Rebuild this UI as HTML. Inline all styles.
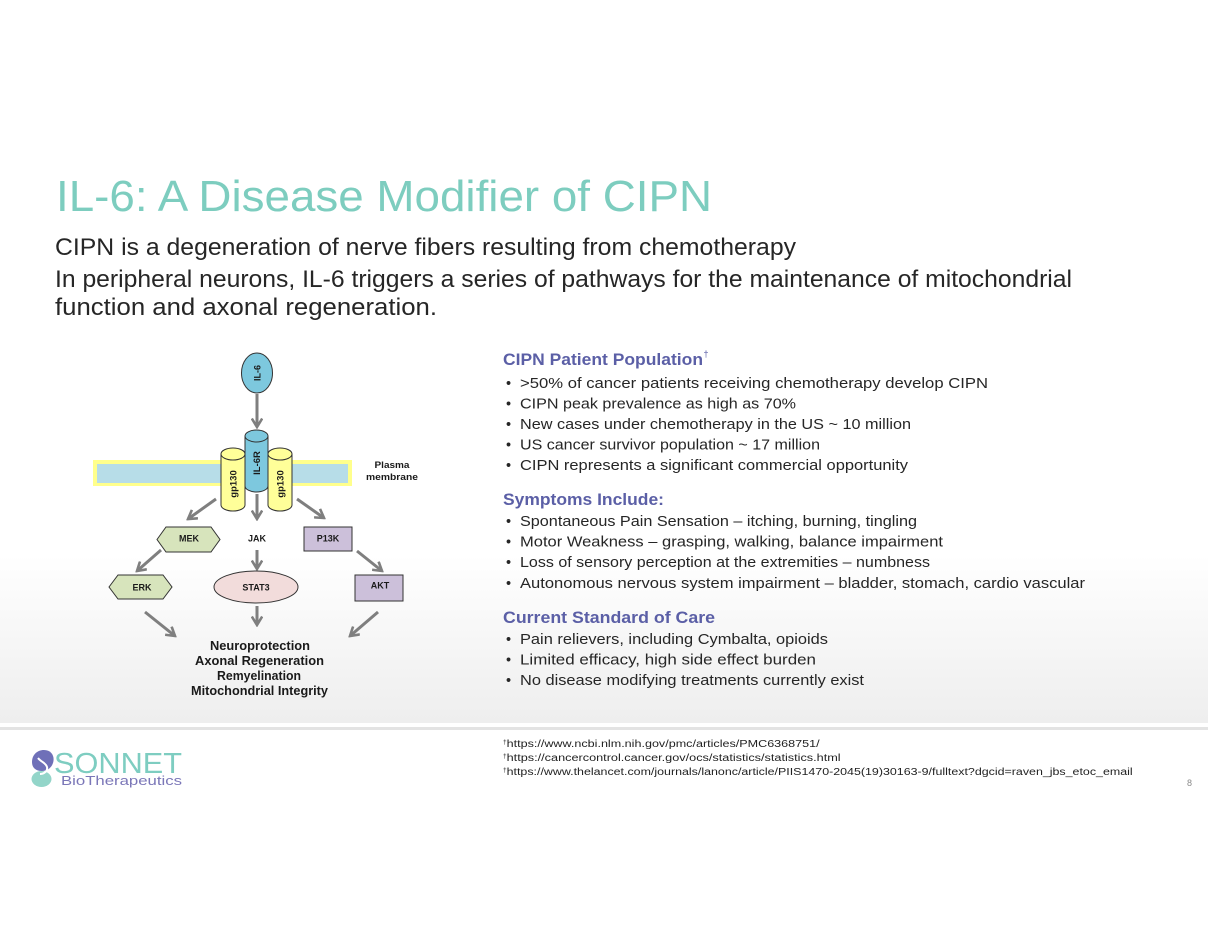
<!DOCTYPE html>
<html>
<head>
<meta charset="utf-8">
<style>
html,body{margin:0;padding:0;background:#fff;}
svg{display:block;}
text{font-family:"Liberation Sans", Arial, sans-serif;}
</style>
</head>
<body>
<svg width="1208" height="934" viewBox="0 0 1208 934" xmlns="http://www.w3.org/2000/svg">
<defs>
  <linearGradient id="bg" x1="0" y1="0" x2="0" y2="1">
    <stop offset="0" stop-color="#ffffff"/>
    <stop offset="1" stop-color="#eeeeee"/>
  </linearGradient>
  <marker id="ah" viewBox="0 0 12 12" refX="10" refY="6" markerWidth="12" markerHeight="12" markerUnits="userSpaceOnUse" orient="auto">
    <path d="M1.5,0.8 L10,6 L1.5,11.2" fill="none" stroke="#7f7f7f" stroke-width="2.6"/>
  </marker>
</defs>

<!-- background -->
<rect x="0" y="0" width="1208" height="934" fill="#ffffff"/>
<rect x="0" y="555" width="1208" height="168" fill="url(#bg)"/>
<rect x="0" y="727" width="1208" height="3" fill="#e3e3e3"/>

<!-- title -->
<text x="56" y="211" font-size="44" fill="#7dcdbf" textLength="656" lengthAdjust="spacingAndGlyphs">IL-6: A Disease Modifier of CIPN</text>

<!-- subtitle -->
<g font-size="24" fill="#262626">
  <text x="55" y="255" textLength="741" lengthAdjust="spacingAndGlyphs">CIPN is a degeneration of nerve fibers resulting from chemotherapy</text>
  <text x="55" y="287" textLength="1017" lengthAdjust="spacingAndGlyphs">In peripheral neurons, IL-6 triggers a series of pathways for the maintenance of mitochondrial</text>
  <text x="55" y="315" textLength="382" lengthAdjust="spacingAndGlyphs">function and axonal regeneration.</text>
</g>

<!-- ===== Diagram ===== -->
<!-- membrane -->
<rect x="93" y="460" width="259" height="26" fill="#ffff8c"/>
<rect x="97" y="464" width="251" height="19" fill="#b7dde8"/>
<g font-size="9.5" font-weight="bold" fill="#1a1a1a" text-anchor="middle">
  <text x="392" y="468" textLength="35" lengthAdjust="spacingAndGlyphs">Plasma</text>
  <text x="392" y="480" textLength="52" lengthAdjust="spacingAndGlyphs">membrane</text>
</g>

<!-- IL-6 -->
<ellipse cx="257" cy="373" rx="15.5" ry="20" fill="#7dc8de" stroke="#333" stroke-width="1"/>
<text transform="translate(260.5,373) rotate(-90)" font-size="9" font-weight="bold" fill="#1a1a1a" text-anchor="middle">IL-6</text>

<!-- gp130 left -->
<path d="M221,454 L221,505 A12,6 0 0 0 245,505 L245,454 Z" fill="#ffff99" stroke="#333" stroke-width="1"/>
<ellipse cx="233" cy="454" rx="12" ry="6" fill="#ffff99" stroke="#333" stroke-width="1"/>
<text transform="translate(236.5,484) rotate(-90)" font-size="9.5" font-weight="bold" fill="#1a1a1a" text-anchor="middle">gp130</text>

<!-- gp130 right -->
<path d="M268,454 L268,505 A12,6 0 0 0 292,505 L292,454 Z" fill="#ffff99" stroke="#333" stroke-width="1"/>
<ellipse cx="280" cy="454" rx="12" ry="6" fill="#ffff99" stroke="#333" stroke-width="1"/>
<text transform="translate(283.5,484) rotate(-90)" font-size="9.5" font-weight="bold" fill="#1a1a1a" text-anchor="middle">gp130</text>

<!-- IL-6R -->
<path d="M245,436 L245,486 A11.5,6 0 0 0 268,486 L268,436 Z" fill="#7dc8de" stroke="#333" stroke-width="1"/>
<ellipse cx="256.5" cy="436" rx="11.5" ry="6" fill="#7dc8de" stroke="#333" stroke-width="1"/>
<text transform="translate(260,463) rotate(-90)" font-size="9.5" font-weight="bold" fill="#1a1a1a" text-anchor="middle">IL-6R</text>

<!-- arrows -->
<g stroke="#7f7f7f" stroke-width="3" fill="none" marker-end="url(#ah)">
  <line x1="257" y1="394" x2="257" y2="427"/>
  <line x1="216" y1="499" x2="188" y2="519"/>
  <line x1="257" y1="494" x2="257" y2="519"/>
  <line x1="297" y1="499" x2="324" y2="518"/>
  <line x1="161" y1="550" x2="137" y2="571"/>
  <line x1="257" y1="550" x2="257" y2="569"/>
  <line x1="357" y1="551" x2="382" y2="571"/>
  <line x1="145" y1="612" x2="175" y2="636"/>
  <line x1="257" y1="606" x2="257" y2="625"/>
  <line x1="378" y1="612" x2="350" y2="636"/>
</g>

<!-- MEK -->
<polygon points="157,539.5 166,527 211,527 220,539.5 211,552 166,552" fill="#d7e4bc" stroke="#333" stroke-width="1"/>
<!-- ERK -->
<polygon points="109,587 118,575 163,575 172,587 163,599 118,599" fill="#d7e4bc" stroke="#333" stroke-width="1"/>
<!-- P13K -->
<rect x="304" y="527" width="48" height="24" fill="#ccc0da" stroke="#333" stroke-width="1"/>
<!-- AKT -->
<rect x="355" y="575" width="48" height="26" fill="#ccc0da" stroke="#333" stroke-width="1"/>
<!-- STAT3 -->
<ellipse cx="256" cy="587" rx="42" ry="16" fill="#f2dcdb" stroke="#333" stroke-width="1"/>

<g font-size="9" font-weight="bold" fill="#1a1a1a" text-anchor="middle">
  <text x="189" y="541.5">MEK</text>
  <text x="257" y="541.5">JAK</text>
  <text x="328" y="541.5">P13K</text>
  <text x="142" y="590.5">ERK</text>
  <text x="256" y="590.5">STAT3</text>
  <text x="380" y="588.5">AKT</text>
</g>

<g font-size="12.5" font-weight="bold" fill="#1a1a1a" text-anchor="middle">
  <text x="260" y="650" textLength="100" lengthAdjust="spacingAndGlyphs">Neuroprotection</text>
  <text x="259.5" y="665" textLength="129" lengthAdjust="spacingAndGlyphs">Axonal Regeneration</text>
  <text x="259" y="680" textLength="84" lengthAdjust="spacingAndGlyphs">Remyelination</text>
  <text x="259.5" y="695" textLength="137" lengthAdjust="spacingAndGlyphs">Mitochondrial Integrity</text>
</g>

<!-- ===== Right column ===== -->
<g font-size="17" font-weight="bold" fill="#5b5fa6">
  <text x="503" y="365" textLength="200" lengthAdjust="spacingAndGlyphs">CIPN Patient Population</text>
  <text x="703.5" y="357" font-size="9" font-weight="normal">†</text>
  <text x="503" y="505" textLength="161" lengthAdjust="spacingAndGlyphs">Symptoms Include:</text>
  <text x="503" y="623" textLength="212" lengthAdjust="spacingAndGlyphs">Current Standard of Care</text>
</g>

<g font-size="14.5" fill="#262626">
  <text x="506" y="388">•</text>
  <text x="520" y="388" textLength="468" lengthAdjust="spacingAndGlyphs">&gt;50% of cancer patients receiving chemotherapy develop CIPN</text>
  <text x="506" y="408.5">•</text>
  <text x="520" y="408.5" textLength="276" lengthAdjust="spacingAndGlyphs">CIPN peak prevalence as high as 70%</text>
  <text x="506" y="429">•</text>
  <text x="520" y="429" textLength="391" lengthAdjust="spacingAndGlyphs">New cases under chemotherapy in the US ~ 10 million</text>
  <text x="506" y="449.5">•</text>
  <text x="520" y="449.5" textLength="300" lengthAdjust="spacingAndGlyphs">US cancer survivor population ~ 17 million</text>
  <text x="506" y="470">•</text>
  <text x="520" y="470" textLength="388" lengthAdjust="spacingAndGlyphs">CIPN represents a significant commercial opportunity</text>

  <text x="506" y="526">•</text>
  <text x="520" y="526" textLength="397" lengthAdjust="spacingAndGlyphs">Spontaneous Pain Sensation – itching, burning, tingling</text>
  <text x="506" y="546.5">•</text>
  <text x="520" y="546.5" textLength="423" lengthAdjust="spacingAndGlyphs">Motor Weakness – grasping, walking, balance impairment</text>
  <text x="506" y="567">•</text>
  <text x="520" y="567" textLength="410" lengthAdjust="spacingAndGlyphs">Loss of sensory perception at the extremities – numbness</text>
  <text x="506" y="588">•</text>
  <text x="520" y="588" textLength="565" lengthAdjust="spacingAndGlyphs">Autonomous nervous system impairment – bladder, stomach, cardio vascular</text>

  <text x="506" y="644">•</text>
  <text x="520" y="644" textLength="308" lengthAdjust="spacingAndGlyphs">Pain relievers, including Cymbalta, opioids</text>
  <text x="506" y="664.5">•</text>
  <text x="520" y="664.5" textLength="296" lengthAdjust="spacingAndGlyphs">Limited efficacy, high side effect burden</text>
  <text x="506" y="685">•</text>
  <text x="520" y="685" textLength="344" lengthAdjust="spacingAndGlyphs">No disease modifying treatments currently exist</text>
</g>

<!-- footnotes -->
<g font-size="10" fill="#222">
  <text x="503" y="747"><tspan font-size="6.5" dy="-3">†</tspan><tspan dy="3" textLength="313" lengthAdjust="spacingAndGlyphs">https://www.ncbi.nlm.nih.gov/pmc/articles/PMC6368751/</tspan></text>
  <text x="503" y="761"><tspan font-size="6.5" dy="-3">†</tspan><tspan dy="3" textLength="334" lengthAdjust="spacingAndGlyphs">https://cancercontrol.cancer.gov/ocs/statistics/statistics.html</tspan></text>
  <text x="503" y="775"><tspan font-size="6.5" dy="-3">†</tspan><tspan dy="3" textLength="626" lengthAdjust="spacingAndGlyphs">https://www.thelancet.com/journals/lanonc/article/PIIS1470-2045(19)30163-9/fulltext?dgcid=raven_jbs_etoc_email</tspan></text>
</g>
<text x="1187" y="786" font-size="9" fill="#8a8a8a">8</text>

<!-- logo -->
<g>
  <ellipse cx="41.5" cy="779" rx="10" ry="8" fill="#93d5c9"/>
  <path d="M44,750 C52,750 55,757 53,763 C51,769 46,771 42,771 C36,771 32,768 32,762 C32,755 37,750 44,750 Z" fill="#6f70b8"/>
  <path d="M38,758 C41,762 46,763 47,767 C48,771 44,774 40,774" fill="none" stroke="#ffffff" stroke-width="2"/>
  <text x="54" y="773" font-size="29" fill="#7ecdc1" textLength="128" lengthAdjust="spacingAndGlyphs">SONNET</text>
  <text x="61" y="785" font-size="13" fill="#7b77b8" textLength="121" lengthAdjust="spacingAndGlyphs">BioTherapeutics</text>
</g>
</svg>
</body>
</html>
